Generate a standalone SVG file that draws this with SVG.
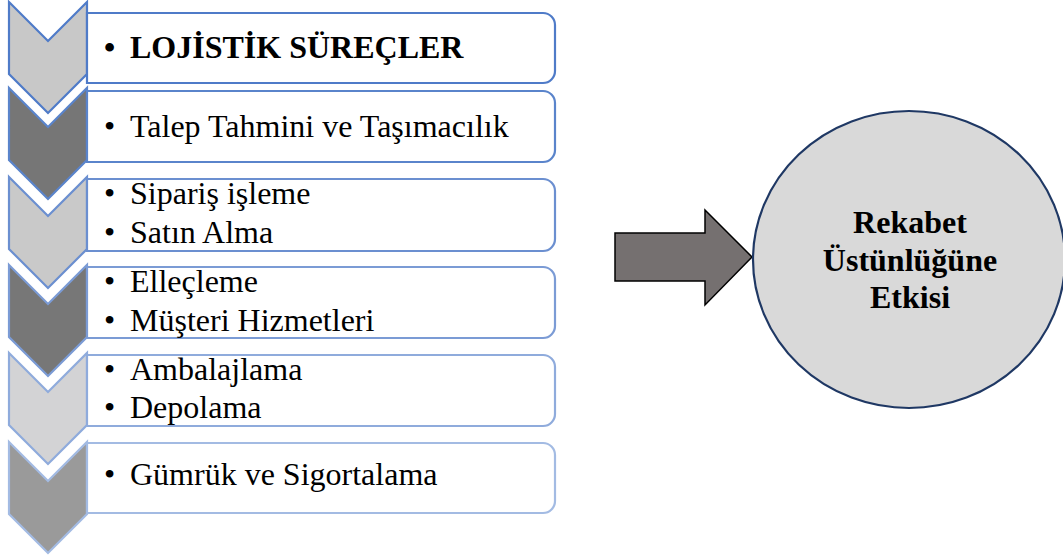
<svg xmlns="http://www.w3.org/2000/svg" width="1063" height="557" viewBox="0 0 1063 557">
<style>
text{font-family:'Liberation Serif','Times New Roman',Tinos,serif;font-size:32px;fill:#000}
.b{font-weight:bold}
.box{fill:#fff;stroke-width:2.2}
.chev{stroke-width:2.2}
</style>
<rect width="1063" height="557" fill="#fff"/>
<g id="chevrons">
<path class="chev" d="M9,2 L48,41 L87,2 L87,74 L48,113 L9,74 Z" fill="#c8c8c8" stroke="#4f7bc8"/>
<path class="chev" d="M9,88 L48,127 L87,88 L87,160 L48,199 L9,160 Z" fill="#767676" stroke="#5a84cb"/>
<path class="chev" d="M9,177 L48,216 L87,177 L87,249 L48,288 L9,249 Z" fill="#c9c9c9" stroke="#6b8fd0"/>
<path class="chev" d="M9,265 L48,304 L87,265 L87,337 L48,376 L9,337 Z" fill="#777777" stroke="#7b9bd5"/>
<path class="chev" d="M9,353 L48,392 L87,353 L87,425 L48,464 L9,425 Z" fill="#d3d3d5" stroke="#8fabdc"/>
<path class="chev" d="M9,442 L48,481 L87,442 L87,514 L48,553 L9,514 Z" fill="#9a9a9a" stroke="#a3bbe3"/>
</g>
<g id="box1">
<path class="box" d="M87,13 H543 A12,12 0 0 1 555,25 V71 A12,12 0 0 1 543,83 H87 Z" stroke="#4f7bc8"/>
<text class="b" x="104" y="58">•</text>
<text class="b" x="130" y="58">LOJİSTİK SÜREÇLER</text>
</g>
<g id="box2">
<path class="box" d="M87,91 H543 A12,12 0 0 1 555,103 V150 A12,12 0 0 1 543,162 H87 Z" stroke="#5a84cb"/>
<text x="104" y="137">•</text>
<text x="130" y="137">Talep Tahmini ve Taşımacılık</text>
</g>
<g id="box3">
<path class="box" d="M87,179 H543 A12,12 0 0 1 555,191 V239 A12,12 0 0 1 543,251 H87 Z" stroke="#6b8fd0"/>
<text x="104" y="204">•</text>
<text x="130" y="204">Sipariş işleme</text>
<text x="104" y="243">•</text>
<text x="130" y="243">Satın Alma</text>
</g>
<g id="box4">
<path class="box" d="M87,267 H543 A12,12 0 0 1 555,279 V326 A12,12 0 0 1 543,338 H87 Z" stroke="#7b9bd5"/>
<text x="104" y="292">•</text>
<text x="130" y="292">Elleçleme</text>
<text x="104" y="331">•</text>
<text x="130" y="331">Müşteri Hizmetleri</text>
</g>
<g id="box5">
<path class="box" d="M87,355 H543 A12,12 0 0 1 555,367 V414 A12,12 0 0 1 543,426 H87 Z" stroke="#8fabdc"/>
<text x="104" y="380">•</text>
<text x="130" y="380">Ambalajlama</text>
<text x="104" y="418">•</text>
<text x="130" y="418">Depolama</text>
</g>
<g id="box6">
<path class="box" d="M87,443 H543 A12,12 0 0 1 555,455 V501 A12,12 0 0 1 543,513 H87 Z" stroke="#a3bbe3"/>
<text x="104" y="485">•</text>
<text x="130" y="485">Gümrük ve Sigortalama</text>
</g>
<g id="connectors">
<polygon points="615,233 705,233 705,210 752,257 705,305 705,281 615,281" fill="#757070" stroke="#000" stroke-width="1.5"/>
</g>
<g id="circle">
<ellipse cx="909" cy="259.5" rx="156" ry="148.5" fill="#d9d9d9" stroke="#1f3864" stroke-width="2.2"/>
<text class="b" x="910" y="233" text-anchor="middle">Rekabet</text>
<text class="b" x="910" y="271" text-anchor="middle">Üstünlüğüne</text>
<text class="b" x="910" y="308" text-anchor="middle">Etkisi</text>
</g>
</svg>
